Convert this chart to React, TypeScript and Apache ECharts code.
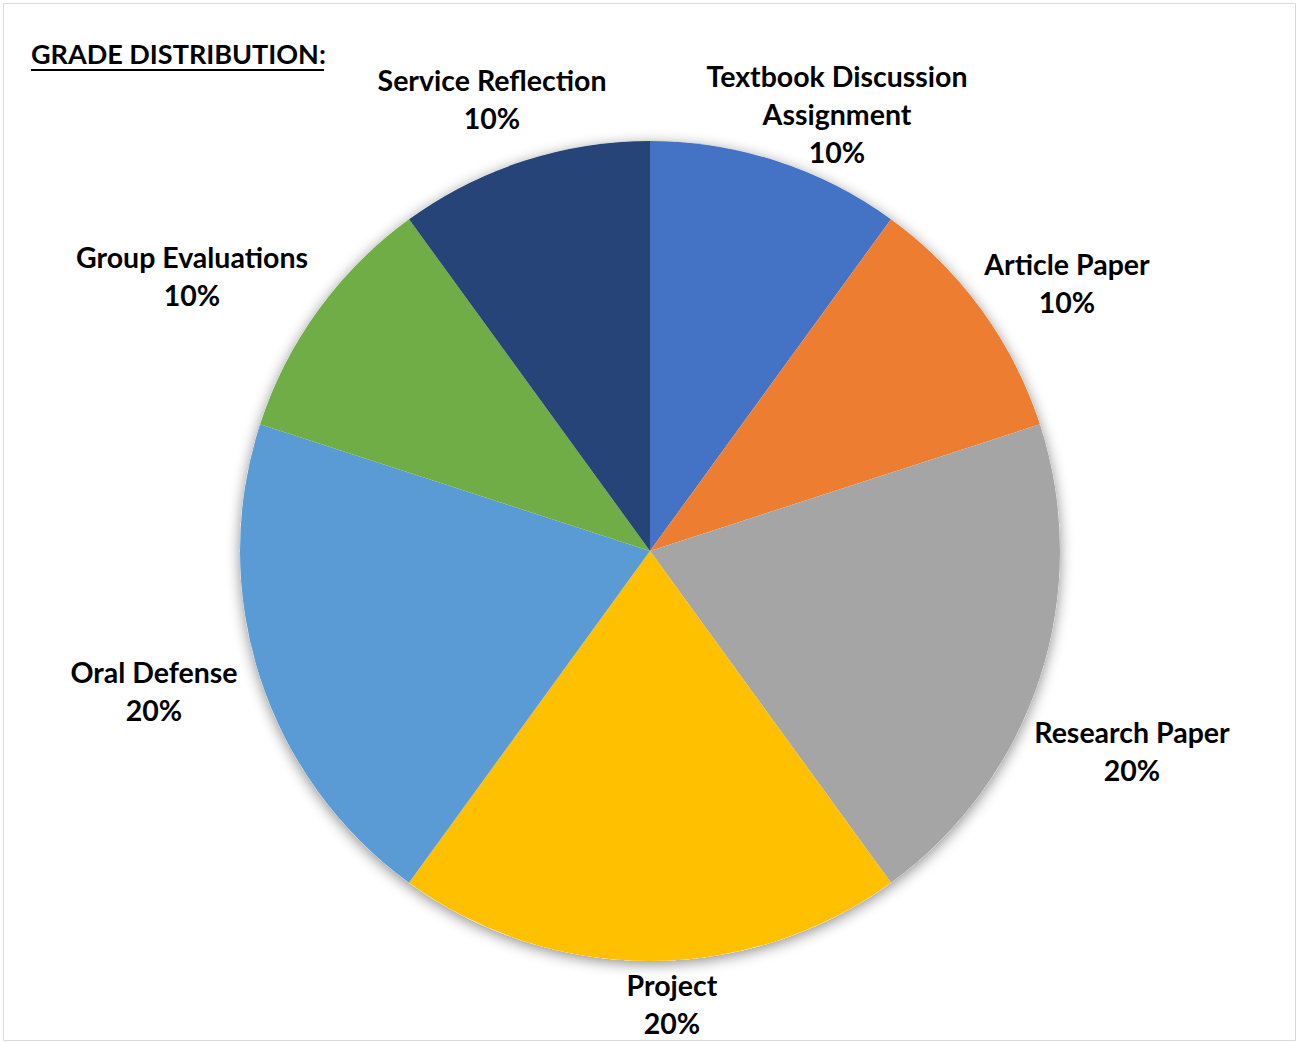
import React, { useEffect, useRef } from "react";
import * as echarts from "echarts";

const categories = [
  "Textbook Discussion Assignment",
  "Article Paper",
  "Research Paper",
  "Project",
  "Oral Defense",
  "Group Evaluations",
  "Service Reflection",
];
const values = [10, 10, 20, 20, 20, 10, 10];
const colors = ["#4472C4", "#ED7D31", "#A5A5A5", "#FFC000", "#5B9BD5", "#70AD47", "#264478"];
const titleText = "GRADE DISTRIBUTION:";

// label anchor layout (centre of each label block), in px
const labelAnchors: [number, number][] = [
  [837, 114],
  [1067, 283],
  [1132, 751],
  [672, 1004],
  [154, 691],
  [192, 276],
  [492, 99],
];

const FONT = "Lato, 'Open Sans', sans-serif";

function wrapName(n: string) {
  if (n.length > 22) {
    const i = n.lastIndexOf(" ");
    return n.slice(0, i) + "\n" + n.slice(i + 1);
  }
  return n;
}

export default function App() {
  const ref = useRef<HTMLDivElement>(null);
  useEffect(() => {
    const chart = echarts.init(ref.current!, null, { renderer: "svg" });
    const center = [650, 551];
    const radius = 410;
    chart.setOption({
      animation: false,
      backgroundColor: "#ffffff",
      graphic: [
        {
          type: "rect",
          shape: { x: 3.5, y: 3.5, width: 1292, height: 1037 },
          style: { fill: "none", stroke: "#d9d9d9", lineWidth: 1 },
          z: 0,
        },
        {
          type: "text",
          left: 31,
          top: 40,
          style: {
            text: titleText,
            font: `bold 27px ${FONT}`,
            fill: "#000",
          },
        },
        {
          type: "line",
          shape: { x1: 31, y1: 70, x2: 324, y2: 70 },
          style: { stroke: "#000", lineWidth: 2 },
        },
      ],
      series: [
        {
          type: "pie",
          silent: true,
          center,
          radius,
          z: 1,
          label: { show: false },
          labelLine: { show: false },
          itemStyle: {
            color: "#ffffff",
            shadowColor: "rgba(0,0,0,0.45)",
            shadowBlur: 14,
            shadowOffsetY: 3,
          },
          data: [{ value: 1, name: "shadow" }],
        },
        {
          type: "pie",
          center,
          radius,
          startAngle: 90,
          clockwise: true,
          z: 2,
          data: categories.map((c, i) => ({
            name: c,
            value: values[i],
            itemStyle: { color: colors[i] },
          })),
          itemStyle: { borderWidth: 0 },
          label: {
            show: true,
            position: "outside",
            formatter: (p: any) => `${wrapName(p.name)}\n${p.value}%`,
            fontFamily: FONT,
            fontWeight: "bold",
            fontSize: 28.5,
            lineHeight: 38,
            color: "#000",
            align: "center",
          },
          labelLine: { show: false },
          labelLayout: (params: any) => {
            const a = labelAnchors[params.dataIndex];
            return { x: a[0], y: a[1], align: "center", verticalAlign: "middle" };
          },
        },
      ],
    });
    return () => chart.dispose();
  }, []);
  return (
    <div
      ref={ref}
      style={{ position: "fixed", left: 0, top: 0, width: 1298, height: 1043 }}
    />
  );
}
